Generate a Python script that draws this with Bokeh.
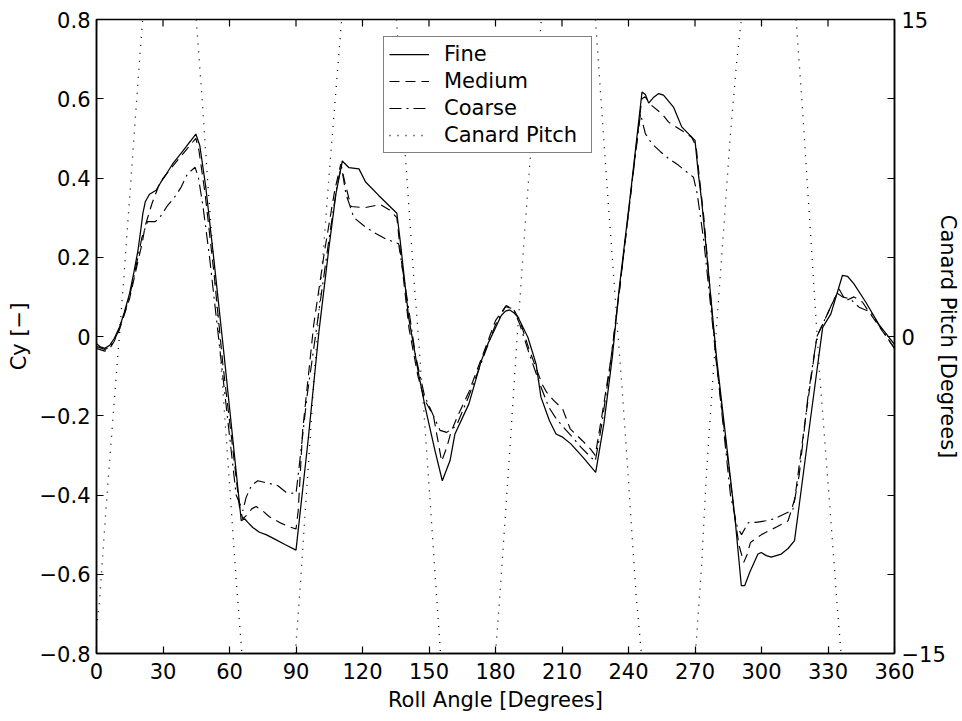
import numpy as np
from bokeh.plotting import figure
from bokeh.models import (Range1d, LinearAxis, FixedTicker, CustomJSTickFormatter, Legend)
from bokeh.embed import file_html
from bokeh.resources import INLINE

# ---------------- data ----------------
fine_angle = [0, 2, 3.7, 6, 8, 10.4, 12.5, 14.9, 16.8, 18.7, 20.0, 20.9, 22.0, 23.9, 26.9,
              29.1, 31.5, 34.4, 37.5, 40.3, 42.5, 44.8, 46.6, 49.3, 53.0, 57.5, 65.3, 66.8,
              68.3, 70.5, 73.5, 76.5, 80, 85, 90, 95.5, 100.4, 104.9, 108, 110.9, 113.9,
              118.4, 121.4, 127.3, 135.5, 137, 140.8, 145.3, 148.3, 152.7, 156, 159.5,
              161.7, 168, 173.6, 176.6, 182.6, 184.5, 186.4, 188.3, 190.1, 194.6, 198.3,
              200.5, 204.3, 207.3, 210.3, 214, 219.5, 225.2, 228.9, 232.7, 235.7, 240.9,
              246.1, 247.6, 249.1, 251.4, 253.6, 255.8, 260.3, 264, 270, 271.5, 273,
              279.7, 288, 290.9, 292.4, 294.7, 298.4, 299.9, 302.2, 304.4, 308.9, 312,
              314.9, 317.1, 321.6, 327.6, 331.3, 336.5, 338.8, 341.7, 347, 353, 360]
fine_cy = [-0.018, -0.027, -0.030, -0.022, -0.005, 0.024, 0.060, 0.108, 0.160, 0.217, 0.270,
           0.310, 0.340, 0.359, 0.369, 0.390, 0.410, 0.436, 0.458, 0.478, 0.494, 0.511,
           0.482, 0.377, 0.192, -0.044, -0.465, -0.460, -0.469, -0.482, -0.494, -0.500,
           -0.510, -0.525, -0.539, -0.260, 0.015, 0.226, 0.360, 0.443, 0.426, 0.423, 0.390,
           0.356, 0.311, 0.242, 0.049, -0.094, -0.179, -0.288, -0.364, -0.313, -0.246,
           -0.170, -0.061, -0.018, 0.053, 0.064, 0.067, 0.060, 0.049, -0.002, -0.069,
           -0.153, -0.212, -0.246, -0.254, -0.271, -0.305, -0.343, -0.220, -0.052, 0.116,
           0.360, 0.617, 0.611, 0.589, 0.604, 0.613, 0.609, 0.579, 0.529, 0.495, 0.411,
           0.343, -0.052, -0.456, -0.629, -0.629, -0.595, -0.549, -0.545, -0.553, -0.557,
           -0.549, -0.535, -0.515, -0.422, -0.229, 0.023, 0.057, 0.154, 0.152, 0.133,
           0.087, 0.030, -0.020]

medium_angle = [0, 3.7, 6, 8, 10.4, 14.9, 18.7, 20.5, 22, 25, 28.7, 34.4, 40.3, 44.8, 46.2,
                49, 53, 57, 61, 64.5, 66, 68, 70, 72, 75, 78, 83.2, 87, 90, 91, 93, 98,
                103, 107.5, 110.2, 112, 114.8, 121, 128, 132, 135.5, 137, 141, 145, 148,
                152, 155.7, 158, 160, 163, 168, 174, 180, 184.8, 188, 191, 195, 199, 201,
                203, 206, 210.3, 213.7, 219.2, 222.9, 225, 228, 232, 236, 241, 246, 247.5,
                250, 255.1, 258.1, 264, 268.5, 270.5, 272, 274, 279.5, 288, 290, 292,
                293.5, 295, 300, 307, 312, 315, 320, 325, 330, 335, 338, 341.7, 345.5,
                350, 355, 360]
medium_cy = [-0.030, -0.037, -0.030, -0.012, 0.018, 0.095, 0.190, 0.233, 0.280, 0.335,
             0.390, 0.430, 0.470, 0.500, 0.470, 0.360, 0.160, -0.070, -0.260, -0.430,
             -0.460, -0.450, -0.435, -0.429, -0.440, -0.455, -0.471, -0.480, -0.486,
             -0.440, -0.237, 0.030, 0.220, 0.370, 0.435, 0.390, 0.328, 0.325, 0.333,
             0.320, 0.300, 0.220, 0.020, -0.100, -0.160, -0.200, -0.315, -0.280, -0.240,
             -0.200, -0.140, -0.050, 0.040, 0.078, 0.070, 0.040, -0.030, -0.090, -0.120,
             -0.140, -0.160, -0.183, -0.233, -0.263, -0.284, -0.300, -0.200, -0.060, 0.120,
             0.360, 0.600, 0.605, 0.585, 0.562, 0.541, 0.520, 0.503, 0.480, 0.400, 0.300,
             -0.060, -0.460, -0.530, -0.570, -0.550, -0.520, -0.500, -0.480, -0.465,
             -0.410, -0.200, 0.000, 0.060, 0.120, 0.090, 0.100, 0.087, 0.050, 0.010,
             -0.030]

coarse_angle = [0, 3.7, 6, 8, 10.4, 14.9, 18.7, 20.5, 23, 26.5, 28.5, 32, 35, 38, 41, 44.5,
                46, 48, 51, 54, 57, 60, 63, 66, 67.5, 70, 72.8, 77.2, 81.7, 85.5, 90, 92,
                95, 100, 105, 108.5, 110.5, 112.5, 116.1, 121.4, 126, 131, 136.3, 140, 144,
                148, 152, 155, 158, 162.4, 168, 174, 180, 184.5, 188, 191, 195, 200, 204,
                207, 210, 214.7, 218.5, 222.2, 225, 228, 232, 236, 241, 245.4, 247.6,
                250.6, 254.3, 258.1, 262.6, 266.3, 269.3, 271, 274, 280, 286, 289, 291,
                294, 297.6, 302, 305.8, 309.6, 314.1, 317, 321, 325, 330, 334, 336.5, 340,
                344, 349.3, 354, 360]
coarse_cy = [-0.025, -0.033, -0.027, -0.010, 0.020, 0.100, 0.200, 0.250, 0.290, 0.290,
             0.300, 0.330, 0.350, 0.375, 0.410, 0.427, 0.400, 0.330, 0.200, 0.050, -0.100,
             -0.250, -0.400, -0.440, -0.406, -0.375, -0.364, -0.370, -0.376, -0.393,
             -0.397, -0.300, -0.150, 0.050, 0.250, 0.380, 0.430, 0.360, 0.300, 0.276,
             0.260, 0.245, 0.234, 0.100, -0.050, -0.150, -0.200, -0.237, -0.242, -0.225,
             -0.150, -0.060, 0.030, 0.075, 0.070, 0.030, -0.040, -0.120, -0.178, -0.204,
             -0.225, -0.254, -0.279, -0.300, -0.315, -0.220, -0.060, 0.120, 0.360, 0.562,
             0.512, 0.486, 0.467, 0.449, 0.432, 0.415, 0.402, 0.360, 0.240, -0.080, -0.400,
             -0.480, -0.500, -0.470, -0.469, -0.465, -0.460, -0.450, -0.438, -0.350,
             -0.150, 0.000, 0.060, 0.110, 0.100, 0.095, 0.074, 0.061, 0.020, -0.030]

# Canard pitch [deg]: visible pieces between -15 and 15
pitch_angle_1 = [0, 1.3, 4.8, 8.5, 10.3, 12.7, 14.9, 16.9, 18.8, 20.8]
pitch_deg_1 = [-13.8, -12.6, -7.4, -2.4, 0, 3.3, 6.5, 9.4, 12.2, 15]
pitch_angle_2 = [45.0, 47.8, 50.1, 52.3, 55.3, 57.8, 60.1, 61.6, 63.5, 65.6]
pitch_deg_2 = [15, 11.0, 7.4, 4.3, 0, -3.7, -7.1, -9.4, -12.2, -15]
pitch_angle_3 = [89.7, 92.2, 93.7, 95.9, 98.2, 99.5, 101.8, 104.9, 107.9, 110.6]
pitch_deg_3 = [-15, -11.4, -9.0, -5.6, -1.9, 0, 3.3, 7.6, 11.5, 15]
pitch_angle_4 = [135.3, 137.3, 139.3, 143.0, 145.2, 148.2, 150.5, 152.7, 155.2]
pitch_deg_4 = [15, 12.0, 8.6, 3.0, 0, -4.3, -7.8, -11.2, -15]
pitch_angle_5 = [180.0, 182.0, 184.1, 186.8, 189.8, 191.6, 193.1, 196.0, 198.5, 200.7]
pitch_deg_5 = [-15, -12.2, -9.0, -4.8, 0, 2.6, 4.9, 8.9, 12.2, 15]
pitch_angle_6 = [225.1, 227.4, 230.4, 233.0, 235.3, 237.0, 239.4, 241.6, 243.5, 245.8]
pitch_deg_6 = [15, 11.5, 7.0, 3.3, 0, -2.3, -5.9, -9.4, -12.3, -15]
pitch_angle_7 = [270.2, 273.0, 275.2, 277.0, 279.4, 281.2, 283.5, 285.7, 288.7, 290.9]
pitch_deg_7 = [-15, -10.8, -6.4, -3.6, 0, 2.6, 5.9, 9.2, 12.9, 15]
pitch_angle_8 = [315.6, 318.6, 321.6, 325.1, 326.1, 328.3, 330.5, 332.8, 333.8, 335.9]
pitch_deg_8 = [15, 10.6, 5.7, 0, -1.6, -4.6, -7.6, -10.8, -12.3, -15]

x_ticks = [0, 30, 60, 90, 120, 150, 180, 210, 240, 270, 300, 330, 360]
y_ticks = [-0.8, -0.6, -0.4, -0.2, 0, 0.2, 0.4, 0.6, 0.8]
pitch_ticks = [-15, 0, 15]
pitch_minor = [-11.25, -7.5, -3.75, 3.75, 7.5, 11.25]

# ---------------- assemble canard pitch with gaps ----------------
pa, pd = [], []
for a, d in [(pitch_angle_1, pitch_deg_1), (pitch_angle_2, pitch_deg_2),
             (pitch_angle_3, pitch_deg_3), (pitch_angle_4, pitch_deg_4),
             (pitch_angle_5, pitch_deg_5), (pitch_angle_6, pitch_deg_6),
             (pitch_angle_7, pitch_deg_7), (pitch_angle_8, pitch_deg_8)]:
    pa += list(a) + [np.nan]
    pd += list(d) + [np.nan]
pa = np.array(pa[:-1], dtype=float)
pd = np.array(pd[:-1], dtype=float)

FONT = "DejaVu Sans"
FS = "21px"

p = figure(width=962, height=721, title=None,
           x_range=Range1d(0, 360), y_range=Range1d(-0.8, 0.8),
           output_backend="svg", toolbar_location=None,
           min_border_left=96, min_border_right=63, min_border_top=19,
           min_border_bottom=68)
p.extra_y_ranges = {"pitch": Range1d(-15, 15)}
p.xgrid.visible = False
p.ygrid.visible = False
p.background_fill_color = "white"
p.border_fill_color = "white"
p.outline_line_color = "black"
p.outline_line_width = 1.5

fmt_js = """
if (Math.abs(tick) < 1e-9) { return '0'; }
var s = (Math.abs(tick - Math.round(tick)) < 1e-9) ? String(Math.round(tick)) : tick.toFixed(1);
return s.replace('-', '\u2212');
"""


def style_axis(ax):
    ax.major_tick_in = 7
    ax.major_tick_out = 0
    ax.minor_tick_line_color = None
    ax.axis_line_width = 1.5
    ax.axis_line_color = "black"
    ax.major_tick_line_color = "black"
    ax.major_tick_line_width = 1.2
    ax.major_label_text_font = FONT
    ax.major_label_text_font_size = FS
    ax.major_label_text_color = "black"
    ax.axis_label_text_font = FONT
    ax.axis_label_text_font_size = FS
    ax.axis_label_text_font_style = "normal"
    ax.axis_label_text_color = "black"


xa = p.xaxis[0]
style_axis(xa)
xa.ticker = FixedTicker(ticks=x_ticks)
xa.formatter = CustomJSTickFormatter(code=fmt_js)
xa.major_label_standoff = 9
xa.axis_label = "Roll Angle [Degrees]"
xa.axis_label_standoff = 6

ya = p.yaxis[0]
style_axis(ya)
ya.ticker = FixedTicker(ticks=y_ticks)
ya.formatter = CustomJSTickFormatter(code=fmt_js)
ya.major_label_standoff = 6
ya.axis_label = "Cy [\u2212]"
ya.axis_label_standoff = 6

right = LinearAxis(y_range_name="pitch",
                   ticker=FixedTicker(ticks=pitch_ticks, minor_ticks=pitch_minor),
                   formatter=CustomJSTickFormatter(code=fmt_js))
style_axis(right)
right.minor_tick_line_color = "black"
right.minor_tick_line_width = 1.2
right.minor_tick_in = 7
right.minor_tick_out = 0
right.major_label_standoff = 7
right.axis_label = "Canard Pitch [Degrees]"
right.axis_label_standoff = -13
p.add_layout(right, "right")

# inward ticks along the top edge of the box
p.ray(x=x_ticks, y=[0.8] * len(x_ticks), length=7, length_units="screen",
      angle=-np.pi / 2, line_color="black", line_width=1.2)

r_fine = p.line(fine_angle, fine_cy, line_color="black", line_width=1.25)
r_med = p.line(medium_angle, medium_cy, line_color="black", line_width=1.15,
               line_dash="10 6")
r_coarse = p.line(coarse_angle, coarse_cy, line_color="black", line_width=1.15,
                  line_dash="12 5 2 5")
r_pitch = p.line(pa, pd, y_range_name="pitch", line_color="black", line_width=1.3,
                 line_dash="1 7")

legend = Legend(items=[("Fine", [r_fine]), ("Medium", [r_med]),
                       ("Coarse", [r_coarse]), ("Canard Pitch", [r_pitch])],
                location=(287, 500), orientation="vertical")
legend.label_text_font = FONT
legend.label_text_font_size = FS
legend.label_text_color = "black"
legend.glyph_width = 40
legend.glyph_height = 24
legend.label_height = 24
legend.label_width = 142
legend.label_standoff = 15
legend.spacing = 3
legend.padding = 5
legend.margin = 0
legend.border_line_color = "black"
legend.border_line_width = 1.5
legend.background_fill_color = "white"
legend.background_fill_alpha = 1.0
p.add_layout(legend, "center")

open("out.html", "w").write(file_html(p, INLINE))
